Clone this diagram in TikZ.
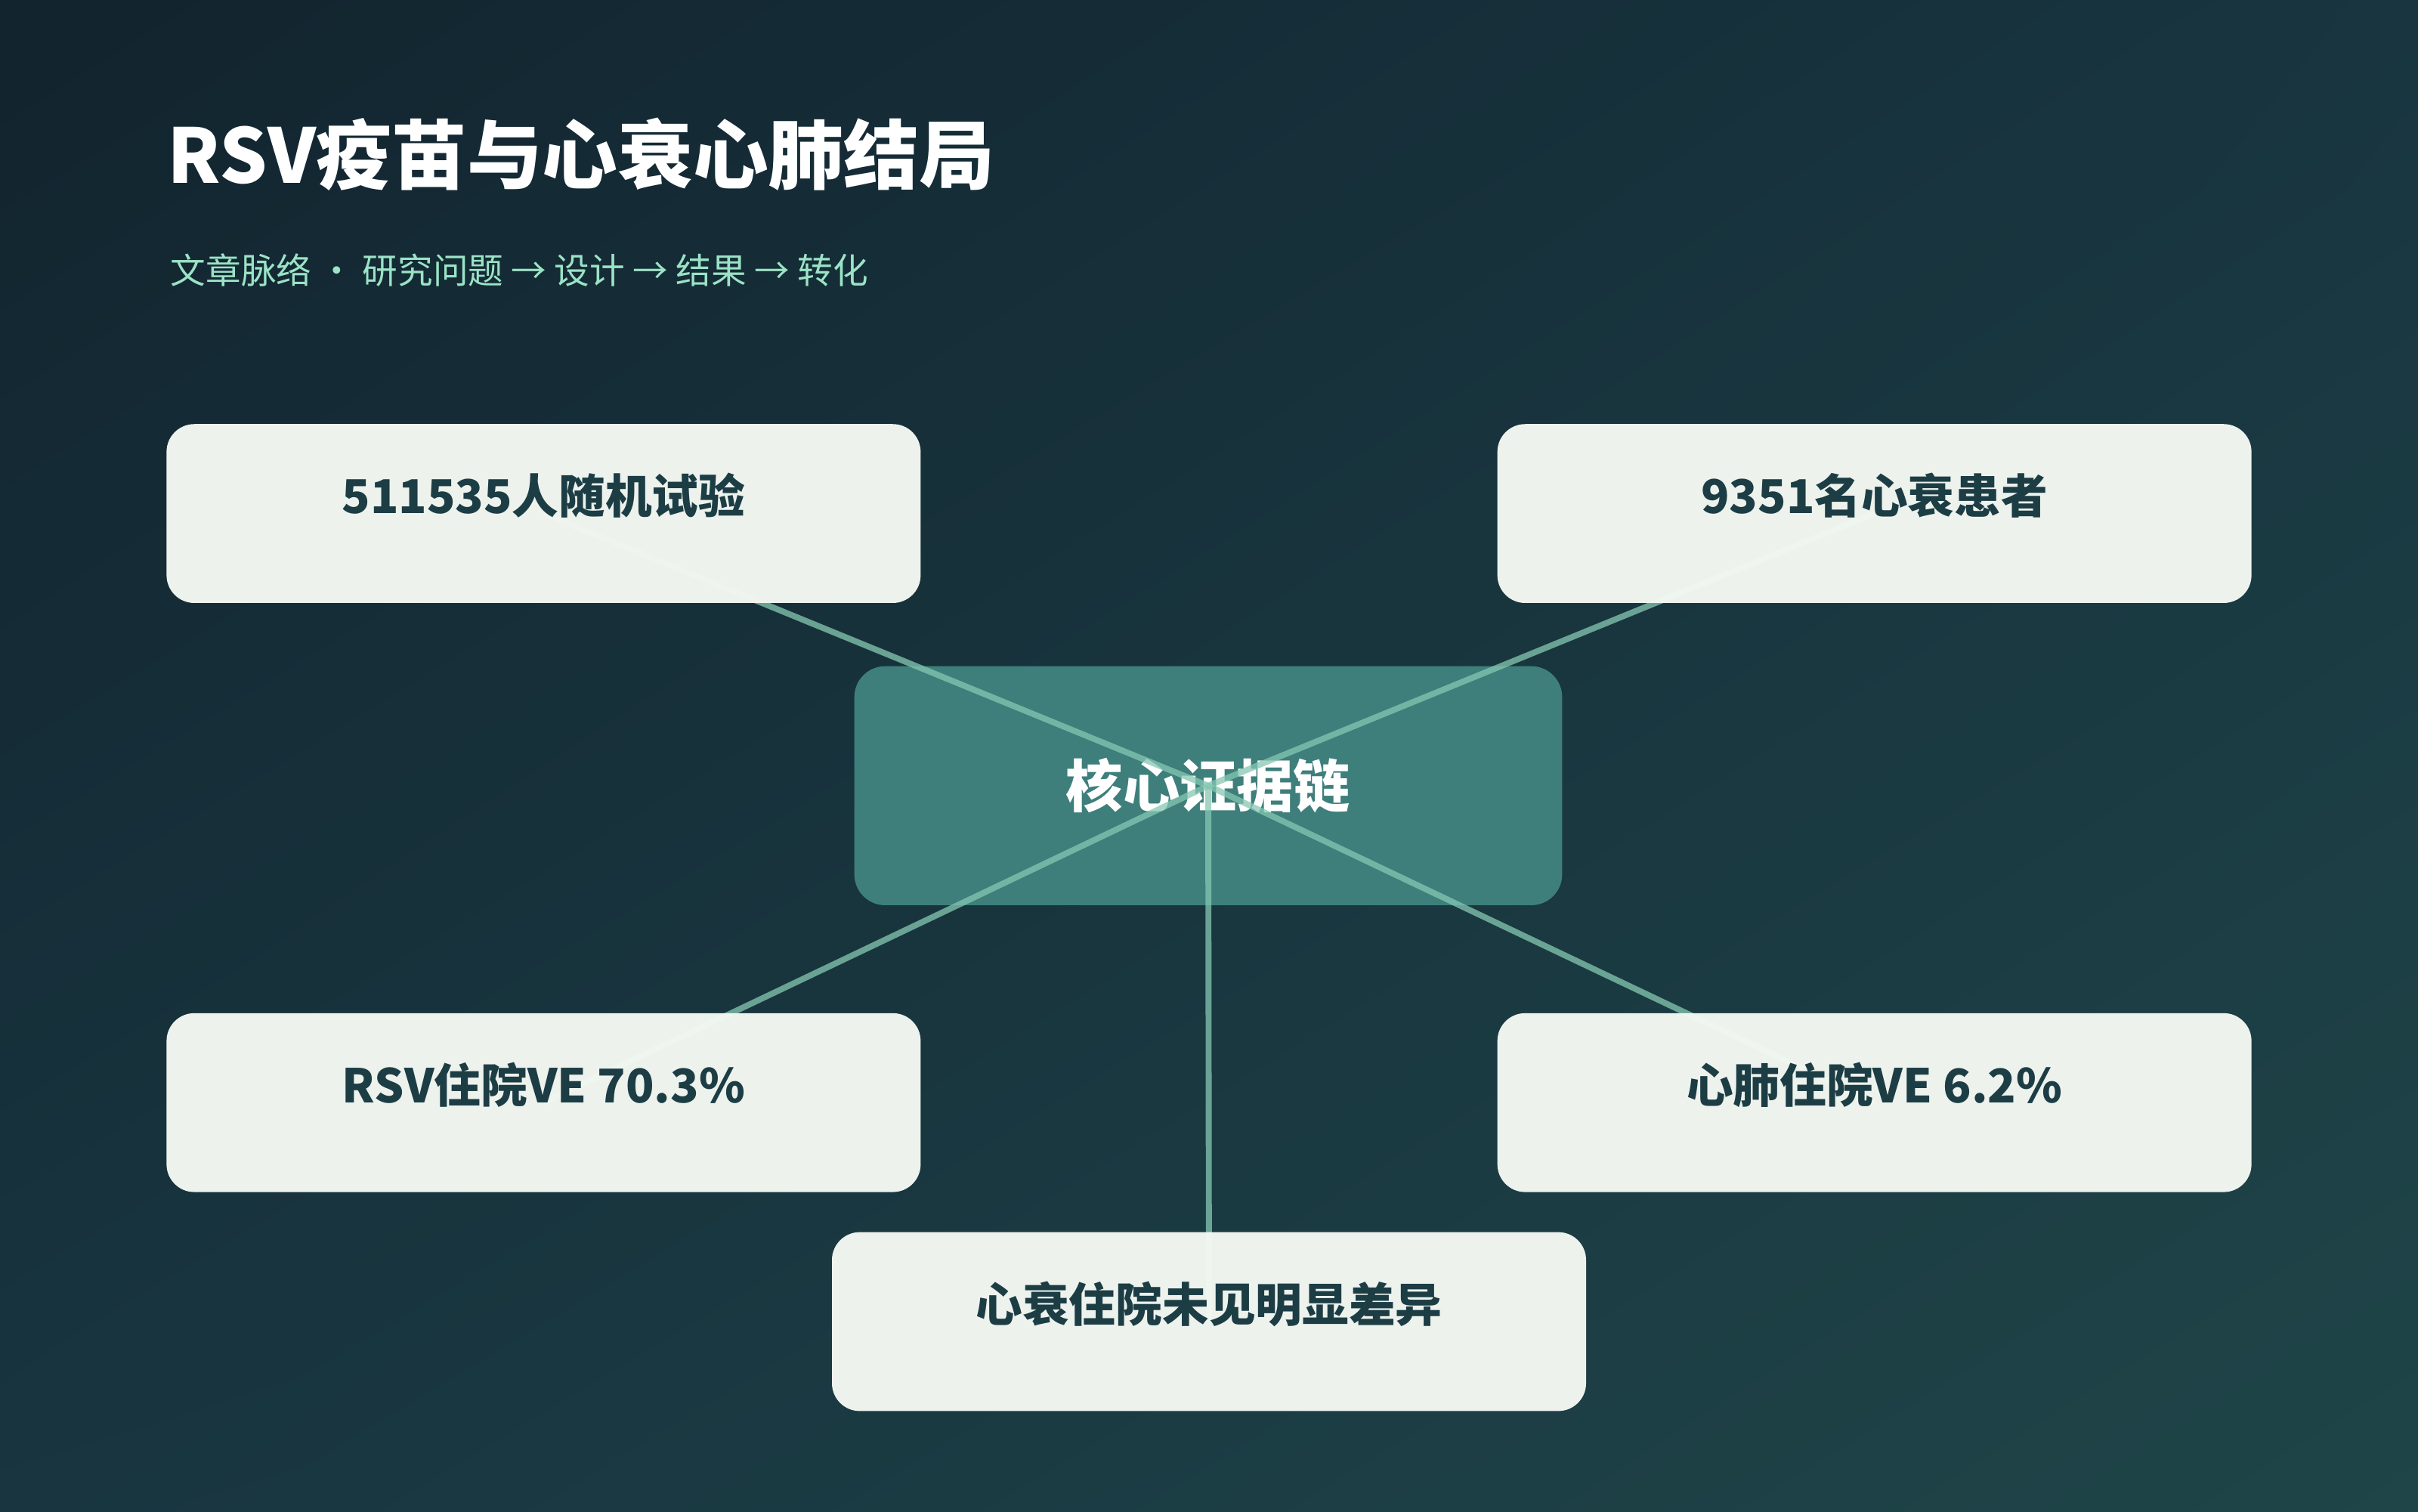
\documentclass[tikz,border=0pt]{standalone}
\usepackage{fontspec}
\setmainfont{Noto Sans CJK SC}
\usetikzlibrary{positioning, shadings}
\definecolor{bgdark}{HTML}{12242E}
\definecolor{bgmid}{HTML}{183540}
\definecolor{bglight}{HTML}{1F4548}
\definecolor{mint}{HTML}{9BE3C6}
\definecolor{cardfill}{HTML}{F3F7F2}
\definecolor{cardtext}{HTML}{1D3D45}
\definecolor{corefill}{HTML}{3E7F7B}
\definecolor{linkcol}{HTML}{86C8B2}
\pgfdeclarelayer{back}
\pgfdeclarelayer{front}
\pgfsetlayers{back,main,front}
\tikzset{
	node distance=2.66cm and 3.74cm,
	every text node part/.style= {
		align=center
	},
	headline/.style= {
		white,
		anchor=west,
		inner sep=0,
		font=\fontsize{13.9}{16}\selectfont\bfseries
	},
	subline/.style= {
		mint,
		anchor=west,
		inner sep=0,
		font=\fontsize{6.5}{8}\selectfont
	},
	card/.style= {
		rectangle,
		rounded corners=0.18cm,
		fill=cardfill, fill opacity=0.975, text opacity=1,
		text=cardtext,
		minimum width=4.89cm, minimum height=1.16cm,
		inner sep=0, outer sep=0,
		text height=0.3cm, text depth=0.3cm,
		font=\fontsize{8.6}{10}\selectfont\bfseries
	},
	hub/.style= {
		rectangle,
		rounded corners=0.2cm,
		fill=corefill,
		text=white,
		minimum width=4.59cm, minimum height=1.55cm,
		inner sep=0, outer sep=0,
		font=\fontsize{10.5}{12}\selectfont\bfseries
	},
	link/.style={draw=linkcol, line width=1.1pt, draw opacity=0.75},
}

\begin{document}
\begin{tikzpicture}
		\useasboundingbox (0,0) rectangle (15.68,9.8);
		\begin{pgfonlayer}{back}
			\shade[upper left=bgdark, lower right=bglight, upper right=bgmid, lower left=bgmid] (0,0) rectangle (15.68,9.8);
		\end{pgfonlayer}

		\node (head) [headline] at (1.08,8.80) {RSV疫苗与心衰心肺结局};
		\node (sub) [subline] at (1.10,8.05) {文章脉络 · 研究问题 → 设计 → 结果 → 转化};

		\node (core) [hub] at (7.835,4.705) {核心证据链};

		\begin{pgfonlayer}{front}
			\node (trial) [card] at (3.525,6.47) {511535人随机试验};
			\node (patients) [card, right = of trial] {9351名心衰患者};
			\node (rsvve) [card, below = of trial] {RSV住院VE 70.3\%};
			\node (cpve) [card, below = of patients] {心肺住院VE 6.2\%};
			\node (hfnull) [card] at (7.84,1.23) {心衰住院未见明显差异};
		\end{pgfonlayer}

		\foreach \n in {trial, patients, rsvve, cpve, hfnull}
			\draw[link] (core.center) to (\n.center);
	\end{tikzpicture}
\end{document}
